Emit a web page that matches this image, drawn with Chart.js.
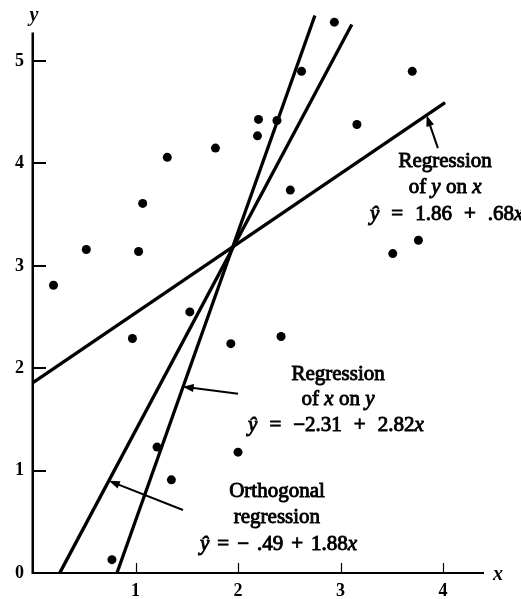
<!DOCTYPE html>
<html>
<head>
<meta charset="utf-8">
<script src="https://cdn.jsdelivr.net/npm/chart.js@4/dist/chart.umd.min.js"></script>
<style>
  html, body { margin: 0; padding: 0; background: #fff; }
  canvas { display: block; }
</style>
</head>
<body>
<canvas id="c" width="521" height="599"></canvas>
<script>
// Observations (x, y)
const pointX = [0.20, 0.52, 1.03, 1.07, 1.31, 1.78, 2.20, 2.19, 2.38, 2.62, 2.94, 3.70,
                3.16, 2.51, 3.76, 3.51, 1.53, 0.97, 1.93, 1.21, 1.35, 2.00, 0.77, 2.42];
const pointY = [2.81, 3.16, 3.14, 3.61, 4.06, 4.15, 4.43, 4.27, 4.42, 4.90, 5.38, 4.90,
                4.38, 3.74, 3.25, 3.12, 2.55, 2.29, 2.24, 1.23, 0.91, 1.18, 0.13, 2.31];

// Fitted lines: y-hat = intercept + slope * x, drawn between the given x limits
const lineNames  = ['Regression of y on x', 'Regression of x on y', 'Orthogonal regression'];
const intercepts = [1.86, -2.31, -0.49];
const slopes     = [0.68, 2.82, 1.88];
const lineStartX = [0, 0.82, 0.26];
const lineEndX   = [4.02, 2.75, 3.11];

// Axis ticks and the drawn length of the y axis
const xTicks = [1, 2, 3, 4];
const yTicks = [0, 1, 2, 3, 4, 5];
const yAxisTop = 5.28;

// Labels: lines of text anchored in data coordinates
const labelBlocks = [
  { lines: [
      { parts: [['Regression', false]], x: 4.02, y: 3.965, align: 'center' },
      { parts: [['of ', false], ['y', true], [' on ', false], ['x', true]], x: 4.02, y: 3.711, align: 'center' },
      { parts: [['ŷ', true], ['|', false], ['=', false], ['|', false], ['1.86', false], ['|', false], ['+', false], ['|', false], ['.68', false], ['x', true]], x: 3.288, y: 3.447, align: 'left', gap: 12 }
    ],
    arrow: { from: [3.95, 4.15], to: [3.84, 4.47] } },
  { lines: [
      { parts: [['Regression', false]], x: 2.976, y: 1.885, align: 'center' },
      { parts: [['of ', false], ['x', true], [' on ', false], ['y', true]], x: 2.976, y: 1.641, align: 'center' },
      { parts: [['ŷ', true], ['|', false], ['=', false], ['|', false], ['\u22122.31', false], ['|', false], ['+', false], ['|', false], ['2.82', false], ['x', true]], x: 2.098, y: 1.387, align: 'left', gap: 12 }
    ],
    arrow: { from: [2.00, 1.75], to: [1.46, 1.82] } },
  { lines: [
      { parts: [['Orthogonal', false]], x: 2.38, y: 0.742, align: 'center' },
      { parts: [['regression', false]], x: 2.38, y: 0.488, align: 'center' },
      { parts: [['ŷ', true], ['|', false], ['=', false], ['|', false], ['\u2212', false], ['|', false], ['.49', false], ['|', false], ['+', false], ['|', false], ['1.88', false], ['x', true]], x: 1.629, y: 0.225, align: 'left', gap: 8 }
    ],
    arrow: { from: [1.463, 0.615], to: [0.74, 0.90] } }
];

const SERIF = '"Liberation Serif", "Times New Roman", serif';
const TEXT_SIZE = 21;

function fontFor(italic) {
  return (italic ? 'italic ' : '') + TEXT_SIZE + 'px ' + SERIF;
}

// Width of a text line; '|' marks a fixed gap
function measureParts(ctx, parts, gap) {
  let w = 0;
  for (const [t, it] of parts) {
    if (t === '|') { w += gap; continue; }
    ctx.font = fontFor(it);
    w += ctx.measureText(t).width;
  }
  return w;
}

function drawParts(ctx, parts, x, y, gap) {
  let cx = x;
  for (const [t, it] of parts) {
    if (t === '|') { cx += gap; continue; }
    ctx.font = fontFor(it);
    ctx.fillText(t, cx, y);
    ctx.strokeText(t, cx, y);
    cx += ctx.measureText(t).width;
  }
}

function drawArrow(ctx, x1, y1, x2, y2) {
  const ang = Math.atan2(y2 - y1, x2 - x1);
  const len = 11, half = 4;
  ctx.beginPath();
  ctx.moveTo(x1, y1);
  ctx.lineTo(x2 - Math.cos(ang) * (len - 2), y2 - Math.sin(ang) * (len - 2));
  ctx.lineWidth = 2;
  ctx.stroke();
  ctx.beginPath();
  ctx.moveTo(x2, y2);
  ctx.lineTo(x2 - Math.cos(ang) * len - Math.sin(ang) * half, y2 - Math.sin(ang) * len + Math.cos(ang) * half);
  ctx.lineTo(x2 - Math.cos(ang) * len + Math.sin(ang) * half, y2 - Math.sin(ang) * len - Math.cos(ang) * half);
  ctx.closePath();
  ctx.fill();
}

// y axis line, inward tick marks, axis letters, arrows and line labels
const annotations = {
  id: 'annotations',
  afterDraw(chart) {
    const ctx = chart.ctx;
    const xs = chart.scales.x, ys = chart.scales.y;
    const left = xs.left, bottom = ys.bottom;
    const top = ys.getPixelForValue(yAxisTop);
    ctx.save();
    ctx.strokeStyle = '#000';
    ctx.fillStyle = '#000';
    ctx.lineCap = 'butt';

    // y axis
    ctx.lineWidth = 2.5;
    ctx.beginPath();
    ctx.moveTo(left - 0.25, bottom + 1);
    ctx.lineTo(left - 0.25, top);
    ctx.stroke();

    // y ticks point right into the plot
    ctx.lineWidth = 2;
    for (const v of yTicks) {
      if (v === 0) continue;
      const py = Math.round(ys.getPixelForValue(v));
      ctx.beginPath();
      ctx.moveTo(left, py);
      ctx.lineTo(left + 13, py);
      ctx.stroke();
    }
    // x ticks point up into the plot
    ctx.lineWidth = 1.2;
    for (const v of xTicks) {
      const px = Math.round(xs.getPixelForValue(v)) + 0.5;
      ctx.beginPath();
      ctx.moveTo(px, bottom);
      ctx.lineTo(px, bottom - 10);
      ctx.stroke();
    }

    // axis letters
    ctx.font = 'italic bold 20px ' + SERIF;
    ctx.textBaseline = 'alphabetic';
    ctx.textAlign = 'center';
    ctx.fillText('y', left + 1, 21);
    ctx.textAlign = 'left';
    ctx.fillText('x', xs.right + 10, bottom + 7);

    // arrows
    for (const b of labelBlocks) {
      const a = b.arrow;
      drawArrow(ctx,
        xs.getPixelForValue(a.from[0]), ys.getPixelForValue(a.from[1]),
        xs.getPixelForValue(a.to[0]), ys.getPixelForValue(a.to[1]));
    }

    // labels
    ctx.textAlign = 'left';
    ctx.textBaseline = 'alphabetic';
    ctx.lineWidth = 0.9;
    for (const b of labelBlocks) {
      for (const ln of b.lines) {
        const gap = ln.gap || 0;
        const w = measureParts(ctx, ln.parts, gap);
        let px = xs.getPixelForValue(ln.x);
        if (ln.align === 'center') px -= w / 2;
        drawParts(ctx, ln.parts, px, ys.getPixelForValue(ln.y), gap);
      }
    }
    ctx.restore();
  }
};

const lineDatasets = lineNames.map((name, i) => ({
  type: 'scatter',
  label: name,
  data: [lineStartX[i], lineEndX[i]].map(x => ({ x: x, y: intercepts[i] + slopes[i] * x })),
  showLine: true,
  borderColor: '#000',
  borderWidth: 3.3,
  pointRadius: 0,
  pointHoverRadius: 0,
  clip: false
}));

const pointDataset = {
  label: 'Observations',
  data: pointX.map((x, i) => ({ x: x, y: pointY[i] })),
  showLine: false,
  pointRadius: 4.5,
  pointBackgroundColor: '#000',
  pointBorderColor: '#000',
  pointBorderWidth: 0,
  clip: false
};

const tickFont = { family: SERIF, size: 18, weight: 'bold' };

new Chart(document.getElementById('c'), {
  type: 'scatter',
  data: { datasets: [...lineDatasets, pointDataset] },
  options: {
    responsive: false,
    devicePixelRatio: 1,
    animation: false,
    events: [],
    layout: { autoPadding: false, padding: { top: 15, right: 38, left: 0, bottom: 0 } },
    plugins: { legend: { display: false }, tooltip: { enabled: false }, title: { display: false } },
    scales: {
      x: {
        type: 'linear',
        min: 0,
        max: 4.39,
        grid: { display: false, drawTicks: false },
        border: { display: true, color: '#000', width: 2 },
        ticks: { color: '#000', font: tickFont, padding: 8, maxRotation: 0 },
        afterBuildTicks: (s) => { s.ticks = xTicks.map(v => ({ value: v })); },
        afterFit: (s) => { s.height = 26; s.paddingLeft = 0; s.paddingRight = 0; }
      },
      y: {
        type: 'linear',
        min: 0,
        max: 5.45,
        grid: { display: false, drawTicks: false },
        border: { display: false },
        ticks: { color: '#000', font: tickFont, padding: 9 },
        afterBuildTicks: (s) => { s.ticks = yTicks.map(v => ({ value: v })); },
        afterFit: (s) => { s.width = 33; s.paddingTop = 0; s.paddingBottom = 0; }
      }
    }
  },
  plugins: [annotations]
});
</script>
</body>
</html>
